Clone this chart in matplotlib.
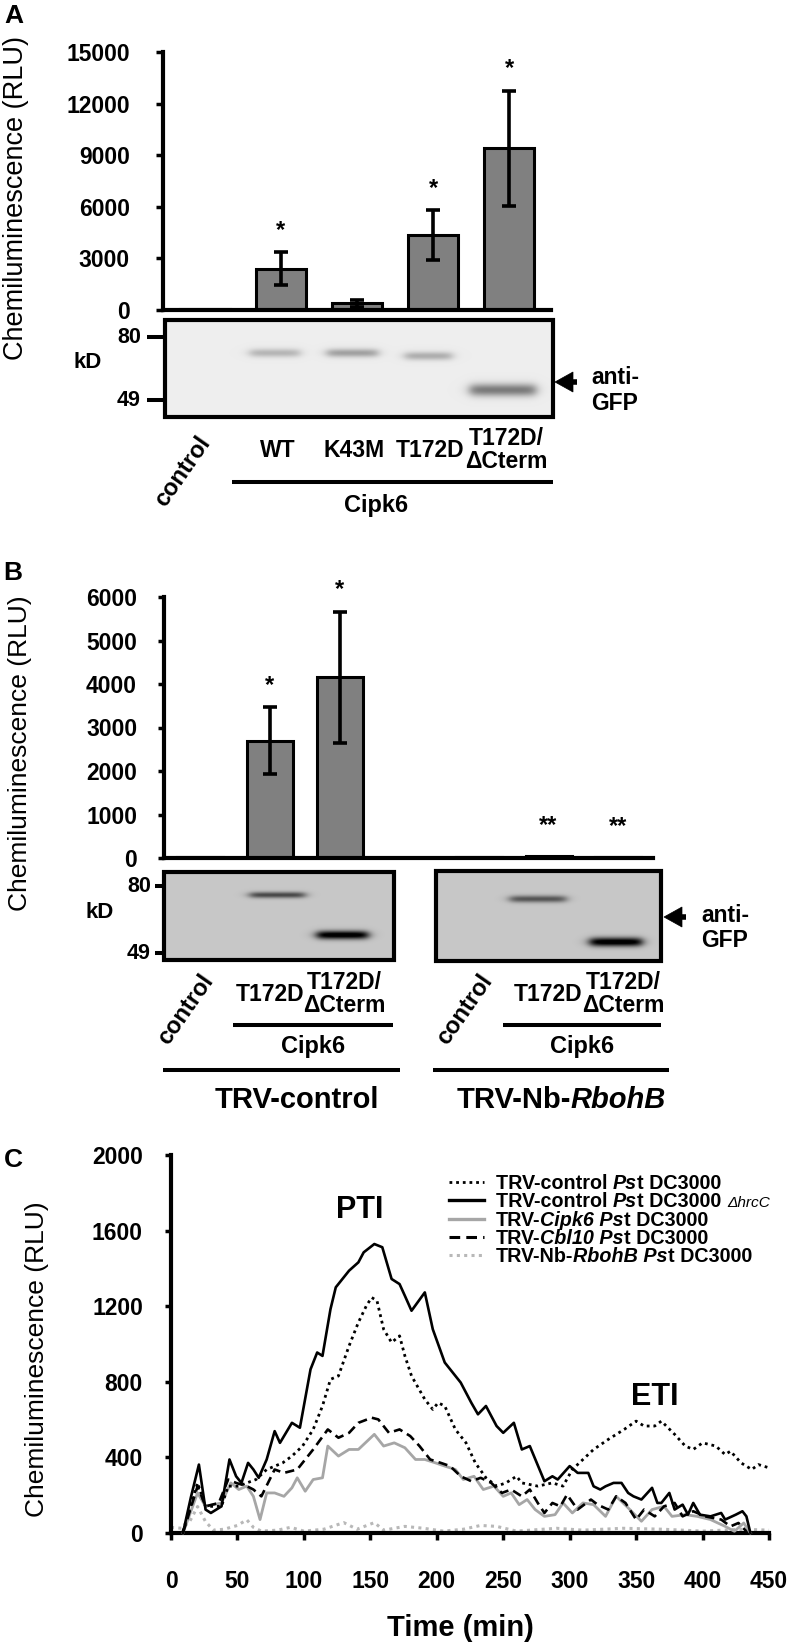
import numpy as np
import matplotlib
matplotlib.use('Agg')
import matplotlib.pyplot as plt
from matplotlib.patches import Rectangle, Polygon

plt.rcParams['font.family'] = ['Liberation Sans', 'DejaVu Sans']

W, H, DPI = 791, 1648, 100

# ---------------- data ----------------
# panel A: ROS burst for Cipk6 variants
a_labels = ['WT', 'K43M', 'T172D', 'T172D/\nΔCterm']
a_means = [30, 2400, 380, 4350, 9400]
a_errs = [0, 950, 200, 1450, 3350]
a_stars = ['', '*', '', '*', '*']
a_yticks = [0, 3000, 6000, 9000, 12000, 15000]

# panel B: same in TRV-control / TRV-Nb-RbohB plants
b_pos = [0, 1, 2, 4, 5, 6]
b_means = [20, 2700, 4150, 20, 40, 30]
b_errs = [0, 760, 1510, 0, 0, 0]
b_stars = ['', '*', '*', '', '**', '**']
b_yticks = [0, 1000, 2000, 3000, 4000, 5000, 6000]
b_groups = ['TRV-control', 'TRV-Nb-']

# panel C: time course (min, RLU)
hrcc = [(9, 0), (15, 190), (21, 362), (26, 124), (30, 106), (38, 141), (44, 389), (49, 300),
        (53, 265), (58, 371), (62, 336), (66, 292), (72, 389), (78, 539), (82, 477), (91, 583),
        (97, 557), (105, 866), (110, 955), (114, 937), (120, 1184), (124, 1300), (134, 1388),
        (141, 1432), (145, 1485), (153, 1529), (159, 1512), (166, 1344), (172, 1317), (176, 1255),
        (181, 1176), (191, 1273), (197, 1078), (206, 902), (218, 796), (226, 689), (231, 628),
        (237, 672), (245, 566), (250, 530), (258, 583), (264, 442), (270, 460), (281, 274),
        (287, 300), (291, 283), (300, 354), (306, 318), (314, 318), (318, 247), (323, 230),
        (327, 247), (333, 265), (339, 265), (344, 212), (348, 194), (354, 177), (362, 239),
        (366, 159), (369, 159), (375, 212), (379, 124), (385, 150), (389, 97), (393, 159),
        (398, 97), (406, 88), (414, 106), (417, 71), (425, 97), (430, 115), (433, 88), (436, 0)]
dc3000 = [(9, 9), (20, 265), (26, 141), (38, 141), (43, 248), (51, 248), (57, 265), (64, 283),
          (72, 336), (84, 371), (91, 407), (99, 460), (107, 548), (114, 672), (120, 813),
          (126, 831), (134, 990), (141, 1114), (147, 1202), (151, 1246), (155, 1229), (160, 1078),
          (166, 1008), (172, 1043), (176, 937), (181, 831), (191, 707), (197, 654), (201, 689),
          (206, 672), (214, 548), (222, 477), (229, 371), (237, 292), (245, 248), (252, 265),
          (260, 300), (264, 265), (276, 248), (287, 265), (295, 248), (302, 336), (310, 389),
          (318, 442), (329, 495), (341, 548), (350, 592), (356, 566), (364, 566), (369, 592),
          (379, 522), (387, 460), (393, 442), (400, 477), (410, 460), (417, 415), (421, 433),
          (429, 371), (437, 336), (442, 362), (450, 345)]
cbl10 = [(9, 0), (20, 248), (26, 141), (36, 159), (43, 283), (49, 265), (57, 248), (62, 230),
         (68, 194), (78, 336), (85, 318), (95, 336), (107, 442), (118, 548), (126, 504),
         (134, 530), (141, 583), (151, 610), (156, 601), (164, 530), (172, 548), (180, 513),
         (187, 460), (195, 389), (203, 371), (210, 354), (218, 300), (226, 274), (233, 292),
         (241, 265), (249, 212), (256, 230), (264, 194), (270, 230), (276, 159), (281, 106),
         (287, 159), (293, 141), (298, 203), (306, 124), (316, 177), (321, 150), (329, 124),
         (335, 194), (342, 159), (350, 71), (356, 124), (364, 88), (371, 141), (379, 159),
         (385, 88), (393, 115), (402, 88), (414, 71), (421, 35), (427, 53), (433, 9)]
cipk6 = [(9, 0), (20, 212), (26, 141), (38, 159), (45, 265), (51, 230), (57, 248), (62, 194),
         (67, 71), (72, 212), (78, 212), (85, 194), (91, 239), (95, 292), (101, 221), (107, 283),
         (114, 292), (118, 460), (126, 407), (134, 442), (141, 442), (153, 522), (160, 460),
         (168, 477), (176, 451), (184, 389), (191, 389), (199, 371), (206, 354), (214, 336),
         (220, 283), (228, 300), (235, 230), (243, 248), (250, 194), (256, 212), (262, 150),
         (268, 177), (274, 124), (281, 88), (289, 97), (295, 159), (302, 106), (310, 159),
         (318, 150), (327, 88), (335, 194), (344, 133), (354, 62), (362, 124), (371, 141),
         (377, 88), (387, 97), (396, 88), (406, 71), (417, 35), (424, 9), (431, 53), (436, 0)]
rbohb = [(0, 30), (8, 25), (14, 60), (20, 140), (26, 60), (32, 15), (40, 20), (50, 40), (57, 70),
         (62, 30), (68, 10), (80, 15), (90, 30), (100, 10), (115, 20), (130, 55), (140, 20),
         (153, 55), (160, 15), (176, 35), (190, 25), (205, 10), (220, 20), (233, 40), (245, 35),
         (260, 10), (290, 25), (310, 15), (340, 25), (370, 20), (400, 10), (430, 20), (450, 15)]
c_xticks = list(range(0, 451, 50))
c_yticks = [0, 400, 800, 1200, 1600, 2000]

fig = plt.figure(figsize=(W / DPI, H / DPI), dpi=DPI)


def axes_px(l, t, r, b):
    return fig.add_axes([l / W, 1 - b / H, (r - l) / W, (b - t) / H])


def style_axes(ax, yticks, tlen, pad):
    for s in ['top', 'right']:
        ax.spines[s].set_visible(False)
    for s in ['left', 'bottom']:
        ax.spines[s].set_linewidth(3)
    ax.set_yticks(yticks)
    ax.set_yticklabels([str(v) for v in yticks], fontweight='bold')
    ax.tick_params(axis='y', direction='out', length=tlen, width=2.5, pad=pad, labelsize=16.5)


def bar_panel(ax, pos, means, errs, stars):
    ax.bar(pos, means, width=0.66, color='#808080', edgecolor='black', linewidth=2.2, zorder=2)
    for p, m, e, s in zip(pos, means, errs, stars):
        if e > 0:
            ax.errorbar(p, m, yerr=e, fmt='none', ecolor='black', elinewidth=2.6,
                        capsize=4.7, capthick=2.6, zorder=3)
        if s:
            off = 16 if len(s) == 1 else 22
            ax.annotate(s, (p, m + e), xytext=(0, off), textcoords='offset points',
                        ha='center', va='center', fontsize=17, fontweight='bold',
                        annotation_clip=False)


# ---- panel A axes
ax_a = axes_px(163, 52, 551, 310)
bar_panel(ax_a, range(5), a_means, a_errs, a_stars)
ax_a.set_ylim(0, 15000)
ax_a.set_xlim(-0.55, 4.55)
ax_a.set_xticks([])
style_axes(ax_a, a_yticks, 5, 18.8)

# ---- panel B axes
ax_b = axes_px(164, 597, 653, 858)
bar_panel(ax_b, b_pos, b_means, b_errs, b_stars)
ax_b.set_ylim(0, 6000)
ax_b.set_xlim(-0.52, 6.5)
ax_b.set_xticks([])
style_axes(ax_b, b_yticks, 4, 15.4)

# ---- panel C axes
ax_c = axes_px(171, 1155, 769, 1533)
for pts, col, ls, lw, z in [(rbohb, '#b8b8b8', (0, (1, 1.4)), 2.2, 2),
                             (cipk6, '#a6a6a6', '-', 2.0, 3),
                             (cbl10, 'black', (0, (3.5, 2)), 1.9, 4),
                             (dc3000, 'black', (0, (1, 1.4)), 2.0, 5),
                             (hrcc, 'black', '-', 1.9, 6)]:
    t, v = np.array(pts).T
    ax_c.plot(t, v, color=col, ls=ls, lw=lw, zorder=z, clip_on=False,
              solid_joinstyle='round')
ax_c.set_xlim(0, 450)
ax_c.set_ylim(0, 2000)
style_axes(ax_c, c_yticks, 4.5, 15.7)
ax_c.set_xticks(c_xticks)
ax_c.set_xticklabels([str(v) for v in c_xticks], fontweight='bold')
ax_c.tick_params(axis='x', direction='out', length=5, width=2.5, pad=21.6, labelsize=16.5)

# ---- overlay in pixel coordinates for blots and annotations
ov = fig.add_axes([0, 0, 1, 1])
ov.set_xlim(0, W)
ov.set_ylim(H, 0)
ov.axis('off')
renderer = fig.canvas.get_renderer()


def bx(ax, p):
    return ax.transData.transform((p, 0))[0]


def txt(x, y, s, size=16.5, weight='bold', **kw):
    kw.setdefault('ha', 'center')
    kw.setdefault('va', 'center')
    return ov.text(x, y, s, fontsize=size, fontweight=weight, **kw)


def hline(x0, x1, y, lw=2.9):
    ov.plot([x0, x1], [y, y], color='black', lw=lw, solid_capstyle='butt')


def draw_blot(l, t, r, b, bg, bands):
    w, h = int(r - l), int(b - t)
    xx = np.arange(w)[None, :] + l + 0.5
    yy = np.arange(h)[:, None] + t + 0.5
    img = np.full((h, w), bg, dtype=float)
    for x0, x1, yc, dark, sig in bands:
        fx = 1 / (1 + np.exp(-(xx - x0) / 3.0)) / (1 + np.exp((xx - x1) / 3.0))
        fy = np.exp(-0.5 * ((yy - yc) / sig) ** 2)
        img = img - dark * fx * fy
    ov.imshow(np.clip(img, 0, 1), cmap='gray', vmin=0, vmax=1, extent=(l, r, b, t),
              aspect='auto', interpolation='bilinear', zorder=1)
    ov.add_patch(Rectangle((l, t), r - l, b - t, fill=False, lw=3, ec='black', zorder=2))


def arrow(tip, y):
    ov.add_patch(Polygon([(tip, y), (tip + 18, y - 10), (tip + 18, y + 10)], closed=True,
                         fc='black', ec='black', lw=0.5))
    hline(tip + 15, tip + 22, y, lw=4)


def text_w(s, **kw):
    t = ov.text(0, 0, 'X' + s + 'X', **kw)
    w1 = t.get_window_extent(renderer).width
    t.set_text('XX')
    w2 = t.get_window_extent(renderer).width
    t.remove()
    return w1 - w2


def rich(x, y, parts, size, ha='left'):
    # parts: (text, style, weight, scale); y is the text centre
    widths = [text_w(s, fontsize=size * sc, fontstyle=st, fontweight=wt) for s, st, wt, sc in parts]
    x0 = x - sum(widths) / 2 if ha == 'center' else x
    base = y + 0.36 * size * DPI / 72
    for (s, st, wt, sc), w in zip(parts, widths):
        ov.text(x0, base, s, fontsize=size * sc, fontstyle=st, fontweight=wt,
                ha='left', va='baseline')
        x0 += w


# panel letters
txt(14, 16, 'A', size=19)
txt(13, 573, 'B', size=19)
txt(13, 1160, 'C', size=19)

# y axis labels
txt(16, 198, 'Chemiluminescence (RLU)', size=19.5, weight='normal', rotation=90)
txt(20, 753, 'Chemiluminescence (RLU)', size=19, weight='normal', rotation=90)
txt(37, 1359, 'Chemiluminescence (RLU)', size=19, weight='normal', rotation=90)

# ---- blot A
draw_blot(165, 320, 553, 417, 0.93,
          [(250, 300, 353, 0.22, 3), (327, 378, 353, 0.30, 3),
           (405, 452, 356, 0.25, 3), (470, 536, 390, 0.45, 4.5)])
for y, lab in [(337, '80'), (400, '49')]:
    hline(147, 165, y)
    txt(129, y, lab, size=15.5)
txt(88, 362, 'kD', size=16)
arrow(555, 382)
txt(591, 377, 'anti-', ha='left')
txt(591, 403, 'GFP', ha='left')

txt(bx(ax_a, 0) - 22, 472, 'control', size=17, rotation=55)
for i, lab in enumerate(a_labels):
    txt(bx(ax_a, i + 1) - 3, 450, lab, linespacing=1.05)
hline(232, 553, 482)
txt(376, 505, 'Cipk6', size=17)

# ---- blot B
draw_blot(164, 872, 394, 960, 0.78,
          [(250, 305, 895, 0.50, 2.2), (317, 368, 935, 0.85, 3.0)])
draw_blot(436, 871, 661, 961, 0.78,
          [(510, 566, 899, 0.45, 2.5), (590, 642, 942, 0.85, 3.2)])
for y, lab in [(886, '80'), (953, '49')]:
    hline(155, 165, y)
    txt(139, y, lab, size=15.5)
txt(100, 912, 'kD', size=16)
arrow(664, 917)
txt(701, 915, 'anti-', ha='left')
txt(701, 940, 'GFP', ha='left')

for g, (c0, cip_l, cip_r, trv_l, trv_r) in enumerate([(0, 233, 393, 163, 400),
                                                       (3, 503, 661, 433, 669)]):
    txt(bx(ax_b, b_pos[c0]) - 14, 1010, 'control', size=17, rotation=55)
    txt(bx(ax_b, b_pos[c0 + 1]), 994, 'T172D')
    txt(bx(ax_b, b_pos[c0 + 2]) + 5, 994, 'T172D/\nΔCterm', linespacing=1.05)
    hline(cip_l, cip_r, 1025)
    txt((cip_l + cip_r) / 2, 1047, 'Cipk6', size=17)
    hline(trv_l, trv_r, 1070)
rich(297, 1097, [(b_groups[0], 'normal', 'bold', 1)], 21, ha='center')
rich(561, 1097, [(b_groups[1], 'normal', 'bold', 1), ('RbohB', 'italic', 'bold', 1)], 21, ha='center')

# ---- panel C annotations
txt(360, 1210, 'PTI', size=22)
txt(655, 1397, 'ETI', size=22)
txt(460, 1628, 'Time (min)', size=21)

N, I = ('normal', 'bold', 1), ('italic', 'bold', 1)
legend_rows = [
    ('black', (0, (1, 1.4)), 2.0, [('TRV-control ', N), ('Ps', I), ('t DC3000', N)]),
    ('black', '-', 2.4, [('TRV-control ', N), ('Ps', I), ('t DC3000 ', N),
                         ('ΔhrcC', ('italic', 'normal', 0.78))]),
    ('#a6a6a6', '-', 2.4, [('TRV-', N), ('Cipk6 Ps', I), ('t DC3000', N)]),
    ('black', (0, (3.5, 2)), 2.2, [('TRV-', N), ('Cbl10 Ps', I), ('t DC3000', N)]),
    ('#b8b8b8', (0, (1, 1.4)), 2.2, [('TRV-Nb-', N), ('RbohB Ps', I), ('t DC3000', N)]),
]
for k, (col, ls, lw, parts) in enumerate(legend_rows):
    y = 1182 + k * 18.3
    ov.plot([449, 484], [y, y], color=col, ls=ls, lw=lw)
    rich(496, y, [(s, *p) for s, p in parts], 14.2)

ov.set_xlim(0, W)
ov.set_ylim(H, 0)
fig.savefig('out.png', dpi=DPI)
